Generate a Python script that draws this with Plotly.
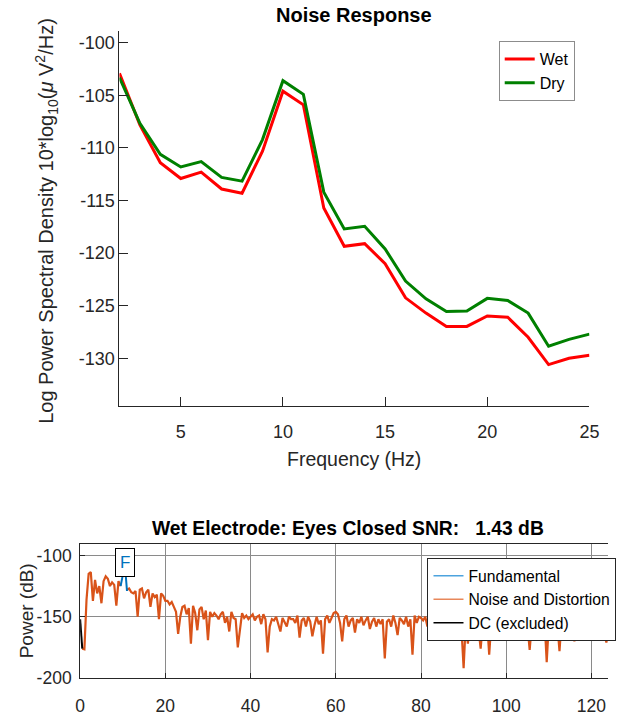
import plotly.graph_objects as go

# ---------------- Top chart data ----------------
freq_hz = [2, 3, 4, 5, 6, 7, 8, 9, 10, 11, 12, 13, 14, 15, 16, 17, 18, 19, 20, 21, 22, 23, 24, 25]
wet_psd = [-102.9, -107.8, -111.4, -112.9, -112.3, -113.9, -114.3, -110.3, -104.6, -105.9, -115.7,
           -119.35, -119.1, -121.0, -124.25, -125.7, -126.97, -126.97, -125.97, -126.1, -128.0,
           -130.6, -130.0, -129.7]
dry_psd = [-103.3, -107.65, -110.6, -111.8, -111.3, -112.8, -113.15, -109.2, -103.6, -104.9, -114.2,
           -117.7, -117.45, -119.6, -122.66, -124.35, -125.56, -125.5, -124.3, -124.5, -125.7,
           -128.85, -128.2, -127.7]
top_xticks = [5, 10, 15, 20, 25]
top_yticks = [-100, -105, -110, -115, -120, -125, -130]

# ---------------- Bottom chart data ----------------
noise_step_hz = 0.5
noise_db = [
    -176, -176.5, -136, -115, -113.5, -137, -120, -131, -125, -139,          # 0.5 - 5
    -121, -117, -119, -125, -122, -124, -141, -121, -125, None,              # 5.5 - 10
    None, -128, -127, -130, -131, -129, -150, -128, -127, -135,              # 10.5 - 15
    -130, -128, -142, -131, -134, -132, -152, -131, -133, -137,              # 15.5 - 20
    -137, -140, -138, -142, -146, -164, -150, -142, -141, -148,              # 20.5 - 25
    -143, -172, -141, -147, -161, -144, -142, -152, -145, -169,              # 25.5 - 30
    -146, -150, -147, -149, -152, -148, -146, -155, -150, -162,              # 30.5 - 35
    -146, -151, -152, -175, -158, -147, -151, -149, -152, -150,              # 35.5 - 40
    -148, -153, -150, -149, -156, -148, -152, -179, -158, -152,              # 40.5 - 45
    -153, -150, -156, -162, -151, -154, -158, -150, -152, -152,              # 45.5 - 50
    -155, -149, -167, -153, -151, -158, -150, -154, -166, -157,              # 50.5 - 55
    -150, -156, -153, -180, -152, -149, -155, -151, -147, -146,              # 55.5 - 60
    -148, -155, -170, -152, -149, -158, -153, -151, -163, -152,              # 60.5 - 65
    -155, -150, -157, -153, -150, -160, -154, -151, -158, -152,              # 65.5 - 70
    -156, -152, -184, -154, -152, -158, -149, -155, -165, -151,              # 70.5 - 75
    -153, -156, -150, -158, -152, -181, -149, -155, -150, -151,              # 75.5 - 80
    -153, -150, -158, -152, -149, -156, -154, -148, -157, -151,              # 80.5 - 85
    -152, -155, -151, -158, -154, -166, -157, -162, -160, -192,              # 85.5 - 90
    -155, -172, -153, -158, -154, -157, -160, -176, -155, -158,              # 90.5 - 95
    -153, -181, -155, -151, -158, -154, -150, -162, -153, -152,              # 95.5 - 100
    -155, -151, -157, -153, -160, -152, -156, -154, -163, -158,              # 100.5 - 105
    -177, -156, -152, -158, -154, -160, -157, -153, -187, -155,              # 105.5 - 110
    -152, -158, -154, -156, -178, -153, -157, -152, -155, -158,              # 110.5 - 115
    -153, -170, -151, -155, -158, -152, -154, -150, -149, -143,              # 115.5 - 120
    -150, -163, -156, -168, -158, -162, -171, -160, -165,                    # 120.5 - 124.5
]
noise_freq = [noise_step_hz * (i + 1) for i in range(len(noise_db))]
fund_freq = [9.5, 10.0, 10.5, 11.0]
fund_db = [-125, -116, -107.5, -129]
dc_freq = [0.0, 0.5]
dc_db = [-152, -176]
bot_xticks = [0, 20, 40, 60, 80, 100, 120]
bot_yticks = [-100, -150, -200]

W, H = 618, 717
def px(x):
    return x / W
def py(y):
    return 1 - y / H

AX = "#262626"
FONT = "Liberation Sans"

fig = go.Figure()

# top chart traces
fig.add_trace(go.Scatter(x=freq_hz, y=wet_psd, name="Wet", mode="lines",
                         line=dict(color="#FF0000", width=3), xaxis="x", yaxis="y", legend="legend"))
fig.add_trace(go.Scatter(x=freq_hz, y=dry_psd, name="Dry", mode="lines",
                         line=dict(color="#008000", width=3), xaxis="x", yaxis="y", legend="legend"))

# bottom chart traces
fig.add_trace(go.Scatter(x=noise_freq, y=noise_db, mode="lines", showlegend=False,
                         line=dict(color="#D95319", width=2.2), xaxis="x2", yaxis="y2"))
fig.add_trace(go.Scatter(x=fund_freq, y=fund_db, mode="lines", showlegend=False,
                         line=dict(color="#0072BD", width=2), xaxis="x2", yaxis="y2"))
fig.add_trace(go.Scatter(x=dc_freq, y=dc_db, mode="lines", showlegend=False,
                         line=dict(color="#000000", width=2), xaxis="x2", yaxis="y2"))
# legend entries (thin samples as in the reference)
for name, col in [("Fundamental", "#4DA3DE"), ("Noise and Distortion", "#E8875A"), ("DC (excluded)", "#000000")]:
    fig.add_trace(go.Scatter(x=[None], y=[None], name=name, mode="lines",
                             line=dict(color=col, width=1.5), xaxis="x2", yaxis="y2", legend="legend2"))

x2_max = (W - 77) / 4.367

fig.update_layout(
    width=W, height=H,
    margin=dict(l=0, r=0, t=0, b=0),
    paper_bgcolor="white", plot_bgcolor="white",
    font=dict(family=FONT, color=AX),
    xaxis=dict(domain=[px(117.3), px(599)], range=[2, 25], tickvals=top_xticks,
               ticktext=[str(v) for v in top_xticks],
               showline=True, linecolor=AX, linewidth=1, ticks="inside", ticklen=9, tickcolor=AX,
               showgrid=False, zeroline=False, anchor="y", tickfont=dict(size=18, color=AX),
               ticklabelstandoff=9),
    yaxis=dict(domain=[py(412), py(31.7)], range=[-134.56, -98.9], tickvals=top_yticks,
               ticktext=[str(v) for v in top_yticks],
               showline=True, linecolor=AX, linewidth=1, ticks="inside", ticklen=9, tickcolor=AX,
               showgrid=False, zeroline=False, anchor="x", tickfont=dict(size=18, color=AX),
               ticklabelstandoff=0),
    xaxis2=dict(domain=[px(77), 1.0], range=[0, x2_max], tickvals=bot_xticks,
                ticktext=[str(v) for v in bot_xticks],
                showline=True, mirror=True, linecolor=AX, linewidth=1, ticks="inside", ticklen=5,
                tickcolor=AX, showgrid=True, gridcolor="#8a8a8a", gridwidth=1.3, zeroline=False,
                anchor="y2", tickfont=dict(size=17.5, color=AX), ticklabelstandoff=12),
    yaxis2=dict(domain=[py(687.7), py(551.3)], range=[-200, -90.4], tickvals=bot_yticks,
                ticktext=[str(v) for v in bot_yticks],
                showline=True, linecolor=AX, linewidth=1, ticks="inside", ticklen=5,
                tickcolor=AX, showgrid=True, gridcolor="#8a8a8a", gridwidth=1.3, zeroline=False,
                anchor="x2", tickfont=dict(size=17.5, color=AX), ticklabelstandoff=4),
    legend=dict(x=px(506), y=py(72), xanchor="left", yanchor="middle", bgcolor="white",
                bordercolor="#8c8c8c", borderwidth=1, font=dict(size=16, color="black", family=FONT),
                tracegroupgap=0, itemwidth=30),
    legend2=dict(x=px(433), y=py(566), xanchor="left", yanchor="top", bgcolor="white",
                 bordercolor="#262626", borderwidth=1, font=dict(size=15.7, color="black", family=FONT),
                 tracegroupgap=0, itemwidth=30),
    annotations=[
        dict(text="<b>Noise Response</b>", x=px(358), y=py(15), xref="paper", yref="paper",
             showarrow=False, font=dict(size=20, color="black", family=FONT), xanchor="center", yanchor="middle"),
        dict(text="Frequency (Hz)", x=px(358), y=py(465), xref="paper", yref="paper",
             showarrow=False, font=dict(size=19.5, color=AX, family=FONT), xanchor="center", yanchor="middle"),
        dict(text="Log Power Spectral Density 10*log<sub>10</sub>(<i>μ</i> V<sup>2</sup>/Hz)",
             x=px(43), y=py(224), xref="paper", yref="paper", textangle=-90,
             showarrow=False, font=dict(size=20, color=AX, family=FONT), xanchor="center", yanchor="middle"),
        dict(text="<b>Wet Electrode: Eyes Closed SNR:   1.43 dB</b>", x=px(351.6), y=py(536),
             xref="paper", yref="paper", showarrow=False,
             font=dict(size=19.3, color="black", family=FONT), xanchor="center", yanchor="middle"),
        dict(text="Power (dB)", x=px(22), y=py(619.5), xref="paper", yref="paper", textangle=-90,
             showarrow=False, font=dict(size=19, color=AX, family=FONT), xanchor="center", yanchor="middle"),
        dict(text="F", x=fund_freq[2], y=-118, xref="x2", yref="y2", showarrow=False,
             xanchor="center", yanchor="bottom", bgcolor="white", bordercolor="black", borderwidth=1,
             borderpad=4, font=dict(size=17, color="#0072BD", family=FONT)),
    ],
)

fig.write_html("out.html")
